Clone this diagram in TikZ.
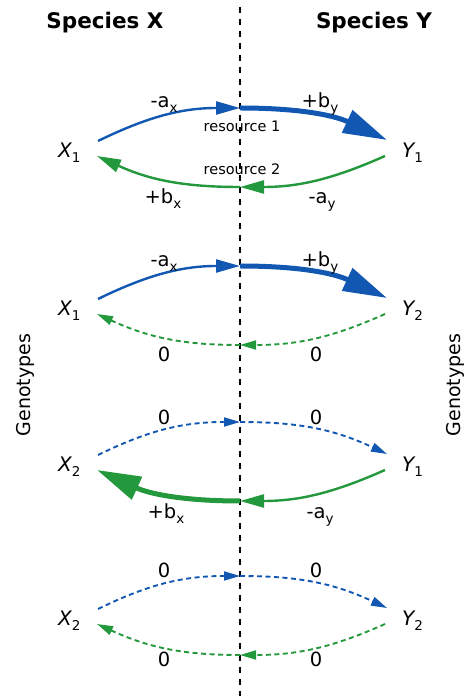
\documentclass[tikz,border=0pt]{standalone}
\usepackage{fontspec}
\setmainfont{DejaVu Sans}
\usetikzlibrary{arrows.meta}
\definecolor{arrblue}{RGB}{18,88,178}
\definecolor{arrgreen}{RGB}{36,152,60}
\newcommand\lowsub[1]{\raisebox{-0.22em}{\fontsize{13.5}{14}\selectfont\upshape #1}}
\begin{document}
\begin{tikzpicture}[x=1pt,y=1pt,
  lbl/.style={font=\fontsize{19.5}{21}\selectfont, inner sep=0pt, anchor=base},
  gene/.style={font=\fontsize{20}{22}\selectfont\itshape, inner sep=0pt, anchor=base west},
  res/.style={font=\fontsize{14.5}{16}\selectfont, inner sep=0pt, anchor=base},
  title/.style={font=\fontsize{21.5}{23}\selectfont\bfseries, inner sep=0pt, anchor=base},
  side/.style={font=\fontsize{19}{21}\selectfont, inner sep=0pt, rotate=90},
  thinsolid/.style={line width=2.4pt},
  thicksolid/.style={line width=5pt},
  dashline/.style={line width=1.9pt, dash pattern=on 5pt off 3.5pt},
  smallhead/.style={-{Triangle[length=24pt,width=13pt]}},
  bighead/.style={-{Triangle[length=44pt,width=24pt]}},
  dashhead/.style={-{Triangle[length=16pt,width=9pt]}},
  midline/.style={line width=1.4pt, dash pattern=on 6.5pt off 5.5pt},
]
\useasboundingbox (0,0) rectangle (470,696);

% centre line and titles
\coordinate (ctop) at (240,689);
\coordinate (cbot) at (240,0);
\draw[midline] (ctop) -- (cbot);
\node[title] (sx) at (105,667) {Species X};
\node[title] (sy) at (374,667) {Species Y};
\node[side] (gl) at (25,311) {Genotypes};
\node[side] (gr) at (455,311) {Genotypes};

% ---------- Row 1 : X1 - Y1 ----------
\node[gene] (X1a) at (58,538) {X\lowsub{1}};
\node[gene] (Y1a) at (402,538) {Y\lowsub{1}};
\coordinate (m1u) at (240,588);
\coordinate (m1l) at (240,509);
\draw[arrblue, thinsolid, smallhead] ([shift={(40,17)}]X1a.base west) to[out=26,in=180] (m1u);
\draw[arrblue, thicksolid, bighead] (m1u) to[out=0,in=155] ([shift={(-15,18)}]Y1a.base west);
\draw[arrgreen, thinsolid, smallhead] ([shift={(-17,2)}]Y1a.base west) to[out=204,in=0] (m1l);
\draw[arrgreen, thinsolid, smallhead] (m1l) to[out=180,in=-24.5] ([shift={(39,2)}]X1a.base west);
\node[lbl] (l1a) at (164,588) {-a\lowsub{x}};
\node[lbl] (l1b) at (320,588) {+b\lowsub{y}};
\node[lbl] (l1c) at (163,492) {+b\lowsub{x}};
\node[lbl] (l1d) at (322,492) {-a\lowsub{y}};
\node[res] (r1) at (242,564) {resource 1};
\node[res] (r2) at (242,521) {resource 2};

% ---------- Row 2 : X1 - Y2 ----------
\node[gene] (X1b) at (58,380) {X\lowsub{1}};
\node[gene] (Y2b) at (402,380) {Y\lowsub{2}};
\coordinate (m2u) at (240,430);
\coordinate (m2l) at (240,351);
\draw[arrblue, thinsolid, smallhead] ([shift={(40,17)}]X1b.base west) to[out=26,in=180] (m2u);
\draw[arrblue, thicksolid, bighead] (m2u) to[out=0,in=155] ([shift={(-15,18)}]Y2b.base west);
\draw[arrgreen, dashline, dashhead] ([shift={(-17,2)}]Y2b.base west) to[out=204,in=0] (m2l);
\draw[arrgreen, dashline, dashhead] (m2l) to[out=180,in=-24.5] ([shift={(39,2)}]X1b.base west);
\node[lbl] (l2a) at (164,429) {-a\lowsub{x}};
\node[lbl] (l2b) at (320,429) {+b\lowsub{y}};
\node[lbl] (l2c) at (164,334) {0};
\node[lbl] (l2d) at (316,334) {0};

% ---------- Row 3 : X2 - Y1 ----------
\node[gene] (X2c) at (58,224) {X\lowsub{2}};
\node[gene] (Y1c) at (402,224) {Y\lowsub{1}};
\coordinate (m3u) at (240,274);
\coordinate (m3l) at (240,195);
\draw[arrblue, dashline, dashhead] ([shift={(40,17)}]X2c.base west) to[out=26,in=180] (m3u);
\draw[arrblue, dashline, dashhead] (m3u) to[out=0,in=155] ([shift={(-15,18)}]Y1c.base west);
\draw[arrgreen, thinsolid, smallhead] ([shift={(-17,2)}]Y1c.base west) to[out=204,in=0] (m3l);
\draw[arrgreen, thicksolid, bighead] (m3l) to[out=180,in=-24.5] ([shift={(39,2)}]X2c.base west);
\node[lbl] (l3a) at (164,271) {0};
\node[lbl] (l3b) at (316,271) {0};
\node[lbl] (l3c) at (166,177) {+b\lowsub{x}};
\node[lbl] (l3d) at (320,177) {-a\lowsub{y}};

% ---------- Row 4 : X2 - Y2 ----------
\node[gene] (X2d) at (58,70) {X\lowsub{2}};
\node[gene] (Y2d) at (402,70) {Y\lowsub{2}};
\coordinate (m4u) at (240,120);
\coordinate (m4l) at (240,41);
\draw[arrblue, dashline, dashhead] ([shift={(40,17)}]X2d.base west) to[out=26,in=180] (m4u);
\draw[arrblue, dashline, dashhead] (m4u) to[out=0,in=155] ([shift={(-15,18)}]Y2d.base west);
\draw[arrgreen, dashline, dashhead] ([shift={(-17,2)}]Y2d.base west) to[out=204,in=0] (m4l);
\draw[arrgreen, dashline, dashhead] (m4l) to[out=180,in=-24.5] ([shift={(39,2)}]X2d.base west);
\node[lbl] (l4a) at (164,118) {0};
\node[lbl] (l4b) at (316,118) {0};
\node[lbl] (l4c) at (164,29) {0};
\node[lbl] (l4d) at (316,29) {0};
\end{tikzpicture}
\end{document}
